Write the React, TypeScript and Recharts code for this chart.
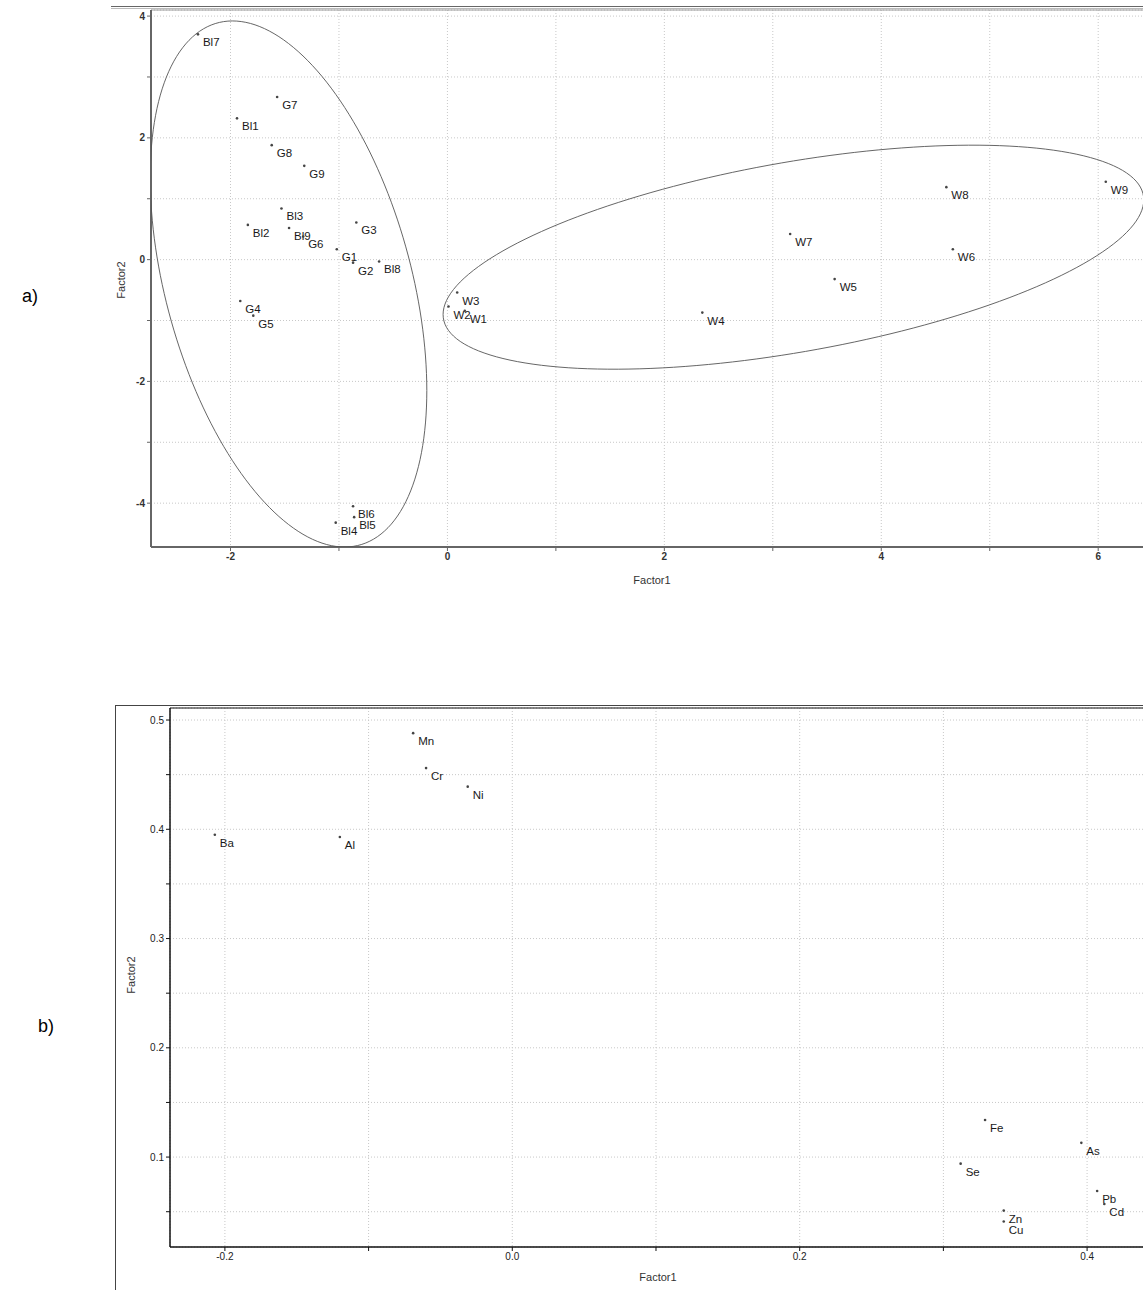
import React from 'react';
import {
    ScatterChart,
    Scatter,
    XAxis,
    YAxis,
    CartesianGrid,
    ReferenceLine
} from 'recharts';

// a) sample scores
const A_NAMES = ['Bl7', 'G7', 'Bl1', 'G8', 'G9', 'Bl3', 'Bl2', 'Bl9', 'G6', 'G3', 'G1', 'G2', 'Bl8', 'G4', 'G5', 'Bl6', 'Bl5', 'Bl4', 'W3', 'W2', 'W1', 'W4', 'W7', 'W8', 'W6', 'W5', 'W9'];
const A_FACTOR1 = [-2.30, -1.57, -1.94, -1.62, -1.32, -1.53, -1.84, -1.46, -1.33, -0.84, -1.02, -0.87, -0.63, -1.91, -1.79, -0.87, -0.86, -1.03, 0.09, 0.01, 0.16, 2.35, 3.16, 4.60, 4.66, 3.57, 6.07];
const A_FACTOR2 = [3.70, 2.67, 2.32, 1.88, 1.54, 0.84, 0.57, 0.52, 0.38, 0.61, 0.17, -0.05, -0.03, -0.68, -0.92, -4.05, -4.23, -4.32, -0.54, -0.77, -0.84, -0.87, 0.42, 1.19, 0.17, -0.32, 1.28];

const A_X_TICKS = [-2, -1, 0, 1, 2, 3, 4, 5, 6];
const A_X_LABELS = ['-2', '', '0', '', '2', '', '4', '', '6'];
const A_Y_TICKS = [-4, -3, -2, -1, 0, 1, 2, 3, 4];
const A_Y_LABELS = ['-4', '', '-2', '', '0', '', '2', '', '4'];

// group ellipses: centre, x half-width, y coupling, y half-height
const ELL_CX = [-1.465, 3.19];
const ELL_CY = [-0.40, 0.04];
const ELL_A1 = [1.275, 3.23];
const ELL_A2 = [-1.75, 0.941];
const ELL_B2 = [3.95, 1.581];

// b) loadings
const B_NAMES = ['Mn', 'Cr', 'Ni', 'Ba', 'Al', 'Fe', 'As', 'Se', 'Pb', 'Cd', 'Zn', 'Cu'];
const B_FACTOR1 = [-0.069, -0.060, -0.031, -0.207, -0.120, 0.329, 0.396, 0.312, 0.407, 0.412, 0.342, 0.342];
const B_FACTOR2 = [0.488, 0.456, 0.439, 0.395, 0.393, 0.134, 0.113, 0.094, 0.069, 0.057, 0.051, 0.041];

const B_X_TICKS = [-0.2, -0.1, 0, 0.1, 0.2, 0.3, 0.4];
const B_X_LABELS = ['-0.2', '', '0.0', '', '0.2', '', '0.4'];
const B_Y_TICKS = [0.05, 0.1, 0.15, 0.2, 0.25, 0.3, 0.35, 0.4, 0.45, 0.5];
const B_Y_LABELS = ['', '0.1', '', '0.2', '', '0.3', '', '0.4', '', '0.5'];

const FONT = '"Liberation Sans", Arial, sans-serif';

const aData = A_NAMES.map((name, i) => ({ name, x: A_FACTOR1[i], y: A_FACTOR2[i] }));
const bData = B_NAMES.map((name, i) => ({ name, x: B_FACTOR1[i], y: B_FACTOR2[i] }));

const ellipse = (k: number) => {
    const pts = [];
    for (let i = 0; i <= 180; i++) {
        const t = (i / 180) * Math.PI * 2;
        pts.push({
            x: ELL_CX[k] + ELL_A1[k] * Math.cos(t),
            y: ELL_CY[k] + ELL_A2[k] * Math.cos(t) + ELL_B2[k] * Math.sin(t)
        });
    }
    return pts;
};

const PointShape = (props: any) => {
    const { cx, cy, payload } = props;
    return (
        <g>
            <circle cx={cx} cy={cy} r={1.3} fill="#444" />
            <text x={cx + 5} y={cy + 12} fontSize={11.5} fill="#1a1a1a" fontFamily={FONT}>{payload.name}</text>
        </g>
    );
};

const NoShape = () => <g />;

export default function App() {
    return (
        <div style={{ position: 'absolute', left: 0, top: 0, width: 1143, height: 1290, overflow: 'hidden', background: '#fff', fontFamily: FONT }}>
            {/* ---- a) ---- */}
            <div style={{ position: 'absolute', left: 111, top: 6, width: 1100, borderTop: '1px solid #666' }} />
            <div style={{ position: 'absolute', left: 111, top: 8, width: 1100, borderTop: '1px solid #bbb' }} />
            <div style={{ position: 'absolute', left: 22, top: 286, fontSize: 18, color: '#000' }}>a)</div>
            <div style={{ position: 'absolute', left: 121, top: 280, transform: 'translate(-50%,-50%) rotate(-90deg)', fontSize: 11, color: '#333' }}>Factor2</div>
            <div style={{ position: 'absolute', left: 652, top: 580, transform: 'translate(-50%,-50%)', fontSize: 11, color: '#333' }}>Factor1</div>
            <div style={{ position: 'absolute', left: 0, top: 0 }}>
                <ScatterChart width={1170} height={600} margin={{ top: 10, right: 0, bottom: 23, left: 111 }}>
                    <CartesianGrid stroke="#c8c8c8" strokeDasharray="1 2" />
                    <XAxis type="number" dataKey="x" domain={[-2.733, 6.662]} ticks={A_X_TICKS} interval={0} allowDataOverflow
                        tickFormatter={(v: number, i: number) => A_X_LABELS[i]} height={30} tickSize={4}
                        axisLine={{ stroke: '#666', strokeWidth: 2 }} tickLine={{ stroke: '#666' }}
                        tick={{ fill: '#333', fontSize: 10, fontWeight: 'bold', fontFamily: FONT }} />
                    <YAxis type="number" dataKey="y" domain={[-4.72, 4.10]} ticks={A_Y_TICKS} interval={0} allowDataOverflow
                        tickFormatter={(v: number, i: number) => A_Y_LABELS[i]} width={40} tickSize={4}
                        axisLine={{ stroke: '#666', strokeWidth: 2 }} tickLine={{ stroke: '#666' }}
                        tick={{ fill: '#333', fontSize: 10, fontWeight: 'bold', fontFamily: FONT }} />
                    <ReferenceLine y={4.10} stroke="#999" />
                    <Scatter data={ellipse(0)} line={{ stroke: '#555', strokeWidth: 0.9 }} shape={NoShape} isAnimationActive={false} />
                    <Scatter data={ellipse(1)} line={{ stroke: '#555', strokeWidth: 0.9 }} shape={NoShape} isAnimationActive={false} />
                    <Scatter data={aData} shape={PointShape} isAnimationActive={false} />
                </ScatterChart>
            </div>

            {/* ---- b) ---- */}
            <div style={{ position: 'absolute', left: 115, top: 705, width: 1100, height: 700, borderTop: '1px solid #444', borderLeft: '1px solid #444' }} />
            <div style={{ position: 'absolute', left: 38, top: 1016, fontSize: 18, color: '#000' }}>b)</div>
            <div style={{ position: 'absolute', left: 131, top: 975, transform: 'translate(-50%,-50%) rotate(-90deg)', fontSize: 11, color: '#333' }}>Factor2</div>
            <div style={{ position: 'absolute', left: 658, top: 1277, transform: 'translate(-50%,-50%)', fontSize: 11, color: '#333' }}>Factor1</div>
            <div style={{ position: 'absolute', left: 0, top: 660 }}>
                <ScatterChart width={1170} height={630} margin={{ top: 48, right: 0, bottom: 13, left: 130 }}>
                    <CartesianGrid stroke="#c8c8c8" strokeDasharray="1 2" />
                    <XAxis type="number" dataKey="x" domain={[-0.2382, 0.4577]} ticks={B_X_TICKS} interval={0} allowDataOverflow
                        tickFormatter={(v: number, i: number) => B_X_LABELS[i]} height={30} tickSize={4}
                        axisLine={{ stroke: '#111', strokeWidth: 1.5 }} tickLine={{ stroke: '#111' }}
                        tick={{ fill: '#222', fontSize: 10, fontFamily: FONT }} />
                    <YAxis type="number" dataKey="y" domain={[0.0177, 0.511]} ticks={B_Y_TICKS} interval={0} allowDataOverflow
                        tickFormatter={(v: number, i: number) => B_Y_LABELS[i]} width={40} tickSize={4}
                        axisLine={{ stroke: '#111', strokeWidth: 1.5 }} tickLine={{ stroke: '#111' }}
                        tick={{ fill: '#222', fontSize: 10, fontFamily: FONT }} />
                    <ReferenceLine y={0.511} stroke="#111" />
                    <Scatter data={bData} shape={PointShape} isAnimationActive={false} />
                </ScatterChart>
            </div>
        </div>
    );
}
